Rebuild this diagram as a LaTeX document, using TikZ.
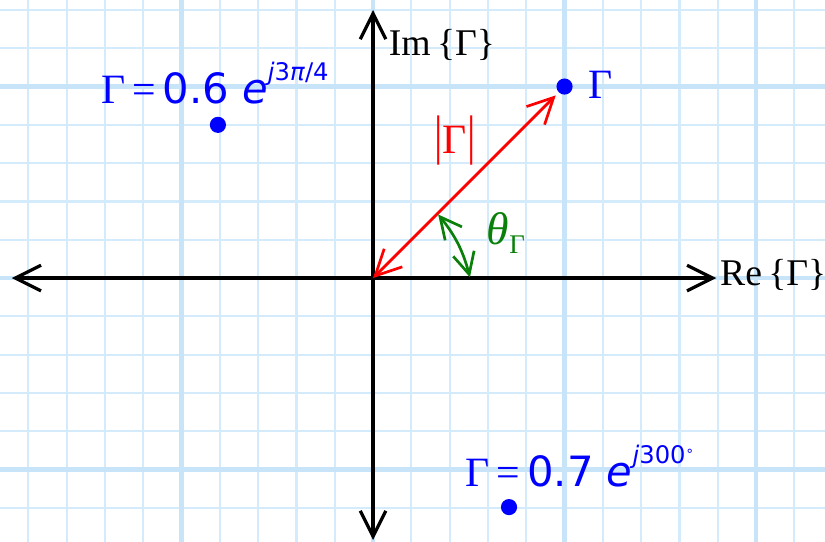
\documentclass[tikz,border=0pt]{standalone}
\usepackage{fontspec}
\usepackage{graphicx}
\setmainfont{Liberation Serif}
\newfontfamily\comicfont{DejaVu Sans}
\usetikzlibrary{arrows.meta}

\definecolor{gridminor}{RGB}{212,235,251}
\definecolor{gridmajor}{RGB}{200,228,249}
\definecolor{phasegreen}{RGB}{10,128,10}

\tikzset{
  axis/.style={line width=1.2pt,black},
  bigtxt/.style={inner sep=0pt,font=\fontsize{15.5}{18}\selectfont},
  axistxt/.style={inner sep=0pt,font=\fontsize{14}{17}\selectfont},
  dot/.style={circle,fill=blue,inner sep=0pt,minimum size=6pt}
}
\newcommand{\supsz}{\fontsize{9}{10}\selectfont}

\begin{document}
\begin{tikzpicture}[x=0.5cm,y=0.5cm,>={Straight Barb[length=9.5pt,width=9.5pt]}]
    \useasboundingbox (-9.74,-6.89) rectangle (11.80,7.26);
    % grid paper
    \draw[gridminor,line width=0.8pt,step=1] (-9.74,-6.89) grid (11.80,7.26);
    \draw[gridmajor,line width=1.6pt,step=5] (-9.74,-6.89) grid (11.80,7.26);
    % axes
    \coordinate (O) at (0,0);
    \coordinate (xl) at (-9.43,0);
    \coordinate (xr) at (8.96,0);
    \coordinate (yb) at (0,-6.84);
    \coordinate (yt) at (0,7.0);
    \draw[axis,<->] (xl) -- (xr);
    \draw[axis,<->] (yb) -- (yt);
    \node[axistxt,anchor=west] (re) at (9.05,0.08) {Re\,\{Γ\}};
    \node[axistxt] (im) at (1.8,6.08) {Im\,\{Γ\}};
    % Gamma and its polar form
    \node[dot] (g) at (5,5) {};
    \node[bigtxt,blue] (glbl) at (5.95,5.05) {Γ};
    \coordinate (gtip) at (4.77,4.77);
    \draw[red,line width=1pt,<->] (O) -- (gtip);
    \node[bigtxt,red] (mag) at (2.14,3.6) {\scalebox{1}[1.3]{|}Γ\scalebox{1}[1.3]{|}};
    \coordinate (thA) at (2.53,0.02);
    \coordinate (thB) at (1.70,1.66);
    \draw[phasegreen,line width=1pt,{Straight Barb[length=8pt,width=8pt]}-{Straight Barb[length=8pt,width=8pt]}] (thB) to[bend left=12] (thA);
    \node[bigtxt,phasegreen] (th) at (3.47,1.17) {\fontsize{17}{19}\selectfont\textit{θ}\raisebox{-0.45ex}{\fontsize{10}{11}\selectfont Γ}};
    % two more points
    \node[dot] (ga) at (-4.05,4.0) {};
    \node[bigtxt,blue] (galbl) at (-4.13,5.09) {Γ\,=\,{\comicfont 0.6 \textit{e}\raisebox{1.0ex}{\supsz\textit{j}3\textit{π}/4}}};
    \node[dot] (gb) at (3.55,-5.98) {};
    \node[bigtxt,blue] (gblbl) at (5.4,-4.9) {Γ\,=\,{\comicfont 0.7 \textit{e}\raisebox{1.0ex}{\supsz\textit{j}300\raisebox{0.6ex}{\fontsize{5}{6}\selectfont ∘}}}};
\end{tikzpicture}
\end{document}
